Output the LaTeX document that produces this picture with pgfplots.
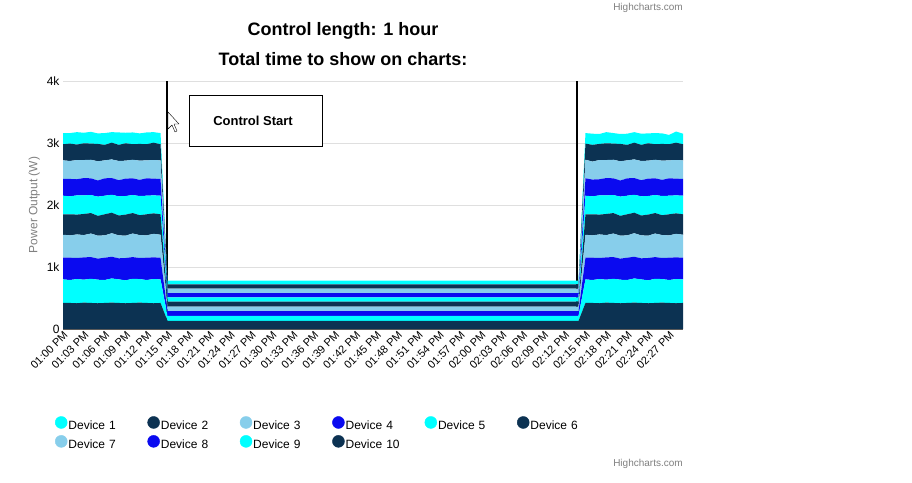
\documentclass[border=0pt]{standalone}
\usepackage{pgfplots}
\pgfplotsset{compat=1.18}
\usepackage{pgfplotstable}
\usepackage{fontspec}
\setmainfont{Liberation Sans}
\definecolor{cy}{RGB}{0,255,255}
\definecolor{dk}{RGB}{12,50,82}
\definecolor{lb}{RGB}{135,206,235}
\definecolor{bl}{RGB}{10,10,240}
\pgfplotstableread{
t d1 d2 d3 d4 d5 d6 d7 d8 d9 d10
0 180 260 300 270 300 330 370 350 380 420
1 170 280 290 280 290 340 360 360 370 420
2 200 250 310 260 310 320 380 340 390 415
3 170 270 290 280 300 340 360 360 370 425
4 190 260 300 270 290 330 380 350 390 420
5 170 280 310 260 310 320 370 340 380 415
6 190 250 290 280 300 340 360 360 370 420
7 170 270 300 270 290 330 380 350 390 425
8 200 260 310 260 310 320 370 340 380 420
9 170 280 290 280 300 340 360 360 370 415
10 190 250 300 270 290 330 380 350 390 420
11 170 270 310 260 310 320 370 340 380 425
12 190 260 290 280 300 340 360 360 370 420
13 170 280 300 270 290 330 380 350 390 415
14 180 260 300 270 300 330 370 350 380 420
15 60 70 70 70 70 80 70 80 80 130
74 60 70 70 70 70 80 70 80 80 130
75 170 260 300 280 300 330 370 350 380 420
76 180 270 290 270 290 340 360 360 370 420
77 160 260 310 260 310 320 380 340 390 415
78 180 270 290 280 300 340 360 360 370 425
79 170 260 300 270 290 330 380 350 390 420
80 160 280 310 260 310 320 370 340 380 415
81 180 250 290 280 300 340 360 360 370 420
82 170 270 300 270 290 330 380 350 390 425
83 180 260 310 260 310 320 370 340 380 420
84 160 280 290 280 300 340 360 360 370 415
85 180 250 300 270 290 330 380 350 390 420
86 170 270 310 260 310 320 370 340 380 425
87 150 260 290 280 300 340 360 360 370 420
88 180 280 300 270 290 330 380 350 390 415
89 170 260 300 270 300 330 370 350 380 420
}\data
\begin{document}
\begin{tikzpicture}[x=1pt,y=1pt]
\fill[white] (0,0) rectangle (912,481);
\node[font=\fontsize{10}{12}\selectfont, text=gray] at (648,475) {Highcharts.com};
\node[font=\fontsize{10}{12}\selectfont, text=gray] at (648,19) {Highcharts.com};
\node[font=\fontsize{18}{22}\selectfont\bfseries] at (343,452) {Control length: 1 hour};
\node[font=\fontsize{18}{22}\selectfont\bfseries] at (343,424) {Total time to show on charts:};
\begin{axis}[at={(63pt,154pt)}, anchor=south west, scale only axis,
 width=620pt, height=248pt,
 xmin=0, xmax=89, ymin=0, ymax=4000,
 stack plots=y,
 axis x line*=bottom, axis y line*=left,
 x axis line style={draw=gray!70!black},
 y axis line style={draw=none},
 ytick={0,1000,2000,3000,4000}, yticklabels={0,1k,2k,3k,4k},
 ymajorgrids, grid style={gray!25},
 ylabel={Power Output (W)}, ylabel style={text=gray, font=\fontsize{12}{14}\selectfont},
 xtick={0,3,...,87},
 xticklabels={01:00 PM,01:03 PM,01:06 PM,01:09 PM,01:12 PM,01:15 PM,01:18 PM,01:21 PM,01:24 PM,01:27 PM,01:30 PM,01:33 PM,01:36 PM,01:39 PM,01:42 PM,01:45 PM,01:48 PM,01:51 PM,01:54 PM,01:57 PM,02:00 PM,02:03 PM,02:06 PM,02:09 PM,02:12 PM,02:15 PM,02:18 PM,02:21 PM,02:24 PM,02:27 PM},
 x tick label style={rotate=45, anchor=north east, font=\fontsize{11}{13}\selectfont, inner sep=1pt},
 y tick label style={font=\fontsize{12}{14}\selectfont},
 major tick length=0pt,
 /pgf/number format/assume math mode=true,
 clip=false,
 legend columns=6,
 legend style={at={(-0.018,-0.343)}, anchor=north west, draw=none, font=\fontsize{12}{14}\selectfont, nodes={text width=78pt, align=left, inner sep=1pt}, row sep=3pt},
 legend image code/.code={\fill[#1] (0.1\baselineskip,0.3\baselineskip) circle (6pt);},
]
\addlegendimage{cy}\addlegendentry{Device 1}
\addlegendimage{dk}\addlegendentry{Device 2}
\addlegendimage{lb}\addlegendentry{Device 3}
\addlegendimage{bl}\addlegendentry{Device 4}
\addlegendimage{cy}\addlegendentry{Device 5}
\addlegendimage{dk}\addlegendentry{Device 6}
\addlegendimage{lb}\addlegendentry{Device 7}
\addlegendimage{bl}\addlegendentry{Device 8}
\addlegendimage{cy}\addlegendentry{Device 9}
\addlegendimage{dk}\addlegendentry{Device 10}
\addplot[fill=dk, draw=none, forget plot] table[x=t,y=d10]{\data} \closedcycle;
\addplot[fill=cy, draw=none, forget plot] table[x=t,y=d9]{\data} \closedcycle;
\addplot[fill=bl, draw=none, forget plot] table[x=t,y=d8]{\data} \closedcycle;
\addplot[fill=lb, draw=none, forget plot] table[x=t,y=d7]{\data} \closedcycle;
\addplot[fill=dk, draw=none, forget plot] table[x=t,y=d6]{\data} \closedcycle;
\addplot[fill=cy, draw=none, forget plot] table[x=t,y=d5]{\data} \closedcycle;
\addplot[fill=bl, draw=none, forget plot] table[x=t,y=d4]{\data} \closedcycle;
\addplot[fill=lb, draw=none, forget plot] table[x=t,y=d3]{\data} \closedcycle;
\addplot[fill=dk, draw=none, forget plot] table[x=t,y=d2]{\data} \closedcycle;
\addplot[fill=cy, draw=none, forget plot] table[x=t,y=d1]{\data} \closedcycle;
\draw[line width=2pt] (axis cs:15,0) -- (axis cs:15,4000);
\draw[line width=2pt] (axis cs:73.8,0) -- (axis cs:73.8,4000);
\end{axis}
\draw[black, fill=white] (189,337) rectangle (322,388);
\node[font=\fontsize{13}{15}\selectfont\bfseries] at (253,362) {Control Start};
\draw[black, fill=white, line join=round] (168,371) -- (168,354) -- (172,358) -- (175,351) -- (177,352) -- (174,359) -- (179,359) -- cycle;
\end{tikzpicture}
\end{document}
